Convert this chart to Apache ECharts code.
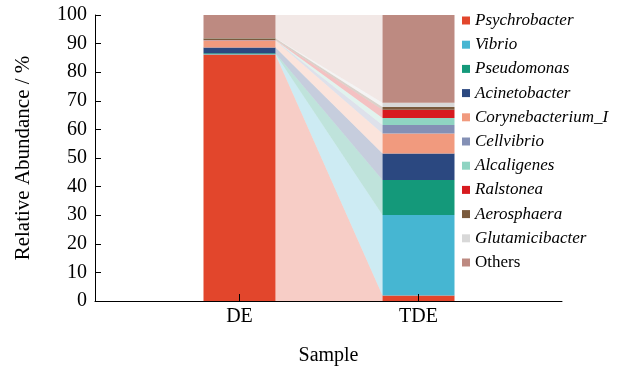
<!DOCTYPE html>
<html>
<head>
<meta charset="utf-8">
<script src="https://cdn.jsdelivr.net/npm/echarts@6/dist/echarts.min.js"></script>
<style>
  html, body { margin: 0; padding: 0; background: #fff; }
  #chart { width: 618px; height: 368px; }
</style>
</head>
<body>
<div id="chart"></div>
<script>
// Relative abundance (%) of the dominant genera in two samples
const samples = ['DE', 'TDE'];
const genera = ['Psychrobacter', 'Vibrio', 'Pseudomonas', 'Acinetobacter', 'Corynebacterium_I',
  'Cellvibrio', 'Alcaligenes', 'Ralstonea', 'Aerosphaera', 'Glutamicibacter', 'Others'];
const deValues  = [86.2, 0.2, 0.2, 2.0, 2.4, 0.1, 0.1, 0.1, 0.6, 0.1, 8.0];
const tdeValues = [1.9, 28.2, 12.2, 9.3, 7.0, 2.9, 2.5, 2.9, 0.9, 1.5, 30.7];
const colors = ['#E2462C', '#46B6D2', '#14997A', '#2B4880', '#F19A7E',
  '#8490B5', '#8FD4C2', '#D71A1F', '#7A5A3D', '#D8D8D8', '#BD8A81'];

const FONT = "'Liberation Serif', 'Times New Roman', serif";
const BAR_W = 72;

function cumulative(vals) {
  const out = [0];
  vals.forEach(v => out.push(out[out.length - 1] + v));
  return out;
}
const deCum = cumulative(deValues);
const tdeCum = cumulative(tdeValues);

const barSeries = genera.map((g, i) => ({
  name: g,
  type: 'bar',
  stack: 'abundance',
  xAxisIndex: 1,
  yAxisIndex: 1,
  barWidth: BAR_W,
  itemStyle: { color: colors[i] },
  data: [deValues[i], tdeValues[i]],
  z: 3
}));

// Ribbons linking each genus between the two stacked bars
const flowSeries = {
  type: 'custom',
  xAxisIndex: 1,
  yAxisIndex: 1,
  silent: true,
  z: 1,
  data: genera.map((g, i) => [0, 0, i]),
  encode: { x: 0, y: 1 },
  renderItem: function (params, api) {
    const i = api.value(2);
    const a0 = api.coord([0, deCum[i]]);
    const a1 = api.coord([0, deCum[i + 1]]);
    const b0 = api.coord([1, tdeCum[i]]);
    const b1 = api.coord([1, tdeCum[i + 1]]);
    const h = BAR_W / 2;
    return {
      type: 'polygon',
      shape: { points: [[a0[0] + h, a0[1]], [a1[0] + h, a1[1]], [b1[0] - h, b1[1]], [b0[0] - h, b0[1]]] },
      style: { fill: colors[i], opacity: i === genera.length - 1 ? 0.2 : 0.27 }
    };
  }
};

const chart = echarts.init(document.getElementById('chart'), null, { renderer: 'canvas' });
chart.setOption({
  animation: false,
  backgroundColor: '#fff',
  textStyle: { fontFamily: FONT, color: '#000' },
  grid: [
    { left: 95, right: 56, top: 15, bottom: 67, outerBoundsMode: 'none', containLabel: false },
    { left: 150, right: 110, top: 15, bottom: 67, outerBoundsMode: 'none', containLabel: false }
  ],
  xAxis: [
    {
      gridIndex: 0, type: 'value', min: 0, max: 1,
      axisLine: { show: true, lineStyle: { color: '#000', width: 1 } },
      axisTick: { show: false }, axisLabel: { show: false }, splitLine: { show: false },
      name: 'Sample', nameLocation: 'middle', nameGap: 45,
      nameTextStyle: { fontFamily: FONT, fontSize: 20, color: '#000' }
    },
    {
      gridIndex: 1, type: 'category', data: samples, z: 10,
      axisLine: { show: false },
      axisTick: { show: true, inside: true, alignWithLabel: true, length: 7, lineStyle: { color: '#000' } },
      axisLabel: { fontFamily: FONT, fontSize: 20, color: '#000', margin: 6 }
    }
  ],
  yAxis: [
    {
      gridIndex: 0, type: 'value', min: 0, max: 100, interval: 10,
      axisLine: { show: true, lineStyle: { color: '#000', width: 1 } },
      axisTick: { show: true, inside: true, length: 6, lineStyle: { color: '#000' } },
      axisLabel: { fontFamily: FONT, fontSize: 20, color: '#000', margin: 8 },
      splitLine: { show: false },
      name: 'Relative Abundance / %', nameLocation: 'middle', nameGap: 61, nameRotate: 90,
      nameTextStyle: { fontFamily: FONT, fontSize: 21, color: '#000' }
    },
    { gridIndex: 1, type: 'value', min: 0, max: 100, show: false }
  ],
  legend: {
    orient: 'vertical',
    left: 462,
    top: 12,
    padding: 0,
    itemWidth: 8,
    itemHeight: 8,
    itemGap: 7.2,
    icon: 'rect',
    data: genera,
    formatter: name => name === 'Others' ? name : '{i|' + name + '}',
    textStyle: {
      fontFamily: FONT, fontSize: 17, color: '#000',
      rich: { i: { fontFamily: FONT, fontSize: 17, fontStyle: 'italic', color: '#000' } }
    }
  },
  series: [flowSeries].concat(barSeries)
});
</script>
</body>
</html>
